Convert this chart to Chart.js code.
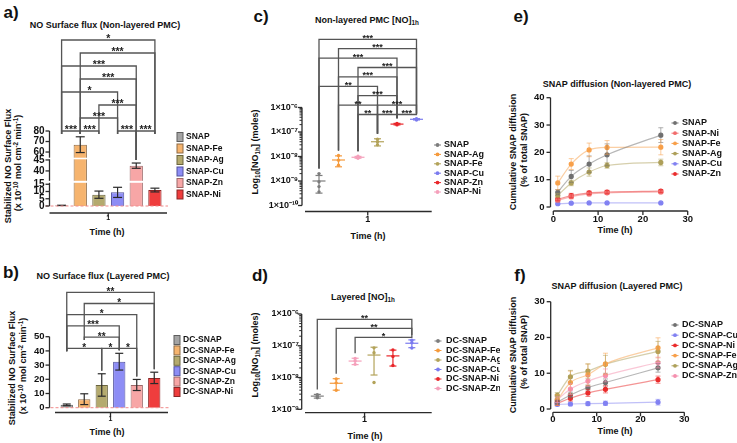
<!DOCTYPE html>
<html><head><meta charset="utf-8"><title>SNAP NO flux and diffusion</title>
<script src="https://cdn.jsdelivr.net/npm/chart.js@4.4.1/dist/chart.umd.min.js"></script>
<style>
html,body{margin:0;padding:0;background:#fff}
body{position:relative;width:737px;height:443px;overflow:hidden;font-family:"Liberation Sans",Arial,Helvetica,sans-serif;font-weight:bold;color:#111}
.t,.r{position:absolute;white-space:nowrap;line-height:1}
.t{transform:translate(-50%,-50%)}
.r{transform:translate(-50%,-50%) rotate(-90deg)}
.p{font-size:17px}
.h{font-size:9px}
.sp{font-size:0.7em;position:relative;top:-0.45em}
.sb{font-size:0.7em;position:relative;top:0.3em}
canvas{position:absolute}
</style></head>
<body>
<div class="t p" style="left:11px;top:12px">a)</div>
<div class="t p" style="left:11px;top:272px">b)</div>
<div class="t p" style="left:261px;top:16px">c)</div>
<div class="t p" style="left:260px;top:275px">d)</div>
<div class="t p" style="left:521px;top:16px">e)</div>
<div class="t p" style="left:520px;top:275px">f)</div>

<div class="t h" style="left:105px;top:25px">NO Surface flux (Non-layered PMC)</div>
<div class="t h" style="left:103px;top:276px">NO Surface flux (Layered PMC)</div>
<div class="t h" style="left:367px;top:20px">Non-layered PMC [NO]<span class="sb">1h</span></div>
<div class="t h" style="left:363px;top:297px">Layered [NO]<span class="sb">1h</span></div>
<div class="t h" style="left:617px;top:84px">SNAP diffusion (Non-layered PMC)</div>
<div class="t h" style="left:617px;top:286px">SNAP diffusion (Layered PMC)</div>

<div class="r h" style="left:8px;top:166px">Stabilized NO Surface Flux</div>
<div class="r h" style="left:18px;top:163px">(x 10<span class="sp">-10</span> mol cm<span class="sp">-2</span> min<span class="sp">-1</span>)</div>
<div class="r h" style="left:12px;top:368px">Stabilized NO Surface Flux</div>
<div class="r h" style="left:23px;top:366px">(x 10<span class="sp">-10</span> mol cm<span class="sp">-2</span> min<span class="sp">-1</span>)</div>
<div class="r h" style="left:255px;top:152px">Log<span class="sb">10</span>[NO<span class="sb">1h</span>] (moles)</div>
<div class="r h" style="left:255px;top:355px">Log<span class="sb">10</span>[NO<span class="sb">1h</span>] (moles)</div>
<div class="r h" style="left:513px;top:152px">Cumulative SNAP diffusion</div>
<div class="r h" style="left:524px;top:150px">(% of total SNAP)</div>
<div class="r h" style="left:513px;top:355px">Cumulative SNAP diffusion</div>
<div class="r h" style="left:524px;top:352px">(% of total SNAP)</div>

<div class="t h" style="left:107px;top:232px">Time (h)</div>
<div class="t h" style="left:107px;top:432px">Time (h)</div>
<div class="t h" style="left:368px;top:236px">Time (h)</div>
<div class="t h" style="left:365px;top:436px">Time (h)</div>
<div class="t h" style="left:615px;top:230px">Time (h)</div>
<div class="t h" style="left:615px;top:431px">Time (h)</div>

<script>
// ================= DATA =================
const xCategory = ['1'];

// a) NO surface flux, non-layered PMC
const aGroups  = ['SNAP','SNAP-Fe','SNAP-Ag','SNAP-Cu','SNAP-Zn','SNAP-Ni'];
const aMeans   = [0.4, 67.0, 7.8, 9.4, 42.4, 11.0];
const aErrors  = [0.1, 7.5, 2.5, 3.5, 1.2, 1.3];
const aYTicks  = [0,5,10,15,40,45,60,70,80];
const aBrackets = [[0,5,'*',0],[1,5,'***',1],[0,4,'***',2],[1,4,'***',3],[0,3,'*',4],[2,4,'***',5],[1,3,'***',6],[0,1,'***',7],[1,2,'***',7],[3,4,'***',7],[4,5,'***',7]];

// b) NO surface flux, layered PMC
const bGroups  = ['DC-SNAP','DC-SNAP-Fe','DC-SNAP-Ag','DC-SNAP-Cu','DC-SNAP-Zn','DC-SNAP-Ni'];
const bMeans   = [2.0, 6.0, 16.0, 32.4, 16.0, 21.0];
const bErrors  = [0.6, 3.8, 7.9, 5.9, 3.9, 4.0];
const bYTicks  = [0,10,20,30,40,50];
const bBrackets = [[0,5,'**',0],[1,5,'*',1],[0,4,'*',2],[0,3,'***',3],[1,3,'**',4],[0,2,'*',5],[2,3,'*',5],[3,4,'*',5]];

// c) Non-layered [NO]1h (plot order)
const cGroups  = ['SNAP','SNAP-Ag','SNAP-Ni','SNAP-Fe','SNAP-Zn','SNAP-Cu'];
const cPoints  = [[2.0e-9,9.3e-10,5.9e-10,3.6e-10],[1.1e-8,7.0e-9,4.4e-9],[1.02e-8,9.3e-9,8.5e-9],[5.1e-8,4.0e-8,3.0e-8],[2.25e-7,2.1e-7,1.95e-7],[3.5e-7,3.3e-7,3.1e-7]];
const cMeans   = [1.0e-9, 7.2e-9, 9.3e-9, 4.0e-8, 2.1e-7, 3.3e-7];
const cSDs     = [6.8e-10, 3.4e-9, 8.0e-10, 1.3e-8, 1.5e-8, 2.0e-8];
const cLegendOrder = [0,1,3,5,4,2];
const cYTicks  = [1e-10,1e-9,1e-8,1e-7,1e-6];
const cBrackets = [[0,5,'***',0],[1,5,'***',1],[0,4,'***',2],[2,5,'***',3],[1,4,'***',4],[0,3,'**',5],[2,4,'***',6],[1,3,'**',7],[3,5,'***',7],[2,3,'**',8],[3,4,'***',8],[4,5,'***',8]];

// d) Layered [NO]1h (plot order)
const dGroups  = ['DC-SNAP','DC-SNAP-Fe','DC-SNAP-Zn','DC-SNAP-Ag','DC-SNAP-Ni','DC-SNAP-Cu'];
const dPoints  = [[2.9e-9,2.6e-9,2.3e-9],[9.0e-9,6.8e-9,4.0e-9],[4.0e-8,3.3e-8,2.6e-8],[8.6e-8,6.0e-8,7.0e-9],[7.4e-8,4.6e-8,2.4e-8],[1.5e-7,1.25e-7,8.5e-8]];
const dMeans   = [2.6e-9, 6.6e-9, 3.3e-8, 5.1e-8, 4.8e-8, 1.2e-7];
const dSDs     = [3.5e-10, 2.6e-9, 7.5e-9, 3.9e-8, 2.5e-8, 3.3e-8];
const dLegendOrder = [0,1,3,5,4,2];
const dYTicks  = [1e-9,1e-8,1e-7,1e-6];
const dBrackets = [[0,5,'**',0],[1,5,'**',1],[2,5,'*',2]];

// e) SNAP diffusion, non-layered
const eTimes   = [1,4,8,12,24];
const eGroups  = ['SNAP','SNAP-Ni','SNAP-Fe','SNAP-Ag','SNAP-Cu','SNAP-Zn'];
const eValues  = [[5.4,11.2,15.7,19.1,26.3],[2.4,3.8,4.8,5.2,5.5],[8.8,15.7,20.9,21.8,21.9],[4.2,8.8,12.8,15.2,16.3],[1.2,1.4,1.5,1.5,1.5],[2.8,4.2,5.2,5.5,5.8]];
const eErrors  = [[1.0,2.2,3.0,4.0,2.7],[0.5,0.8,0.7,0.6,0.6],[2.5,2.0,2.5,2.5,2.8],[0.8,1.0,1.5,1.0,1.2],[0.3,0.2,0.2,0.2,0.2],[0.5,0.8,0.6,0.6,0.5]];
const eYTicks  = [0,10,20,30,40];
const eXTicks  = [0,10,20,30];

// f) SNAP diffusion, layered
const fTimes   = [1,4,8,12,24];
const fGroups  = ['DC-SNAP','DC-SNAP-Cu','DC-SNAP-Ni','DC-SNAP-Fe','DC-SNAP-Ag','DC-SNAP-Zn'];
const fValues  = [[1.9,3.9,6.0,7.4,11.5],[1.3,1.4,1.5,1.6,1.9],[1.6,3.0,4.5,5.5,8.2],[2.5,7.4,9.6,12.6,17.1],[3.8,9.0,10.6,12.5,16.1],[2.6,5.6,7.8,9.4,13.0]];
const fErrors  = [[0.6,0.8,0.7,1.0,1.2],[0.5,0.5,0.5,0.6,0.8],[0.6,0.8,1.0,1.0,1.0],[1.5,3.2,3.0,3.0,2.8],[0.8,1.8,2.0,2.5,2.8],[0.8,1.5,1.5,1.8,1.5]];
const fYTicks  = [0,10,20,30];
const fXTicks  = [0,10,20,30];

// ================= STYLE =================
const FONT = '"Liberation Sans", Arial, Helvetica, sans-serif';
const barFill = ['#a4a4a4','#f6b46e','#b4aa6e','#8d8df5','#f7a6a6','#ef3d3d'];
const barEdge = ['#5e5e5e','#8e6a44','#6a643f','#52529e','#9c6868','#8a2626'];
const cCol = ['#7d7d7d','#f59a3c','#f5a0bb','#b3a35a','#e9262a','#7b7bef'];
const dCol = ['#7d7d7d','#f59a3c','#f5a0bb','#b3a35a','#e9262a','#7b7bef'];
const eCol = ['#707070','#f26d6d','#f8a04a','#aea05a','#8181f2','#ea2b2b'];
const fCol = ['#707070','#8181f2','#ea2b2b','#f8a04a','#aea05a','#f58fae'];

Chart.defaults.font.family = FONT;
Chart.defaults.font.weight = 'bold';
Chart.defaults.color = '#111';
Chart.defaults.animation = false;
Chart.defaults.events = [];
Chart.defaults.plugins.legend.display = false;
Chart.defaults.plugins.tooltip.enabled = false;

function rgba(hex, a){ const n=parseInt(hex.slice(1),16); return `rgba(${n>>16},${(n>>8)&255},${n&255},${a})`; }
const SUP = {'-':'\u207B','0':'\u2070','1':'\u00B9','2':'\u00B2','3':'\u00B3','4':'\u2074','5':'\u2075','6':'\u2076','7':'\u2077','8':'\u2078','9':'\u2079'};
const sci = v => '1\u00D710' + String(Math.round(Math.log10(v))).split('').map(ch=>SUP[ch]).join('');

// ---- broken linear axis (panel a) ----
class BrokenScale extends Chart.LinearScale {
  _u(v){
    const s=this.options.segments;
    for (const g of s){ if (v<=g[1]) { if (v<g[0]) return g[2]; return g[2]+(v-g[0])*(g[3]-g[2])/(g[1]-g[0]); } }
    const g=s[s.length-1]; return g[2]+(v-g[0])*(g[3]-g[2])/(g[1]-g[0]);
  }
  uToPixel(u){ return this.bottom - u/this.options.span*(this.bottom-this.top); }
  getPixelForValue(v){ if (v===null||v===undefined||isNaN(v)) return NaN; return this.uToPixel(this._u(v)); }
  getValueForPixel(p){
    const u=(this.bottom-p)/(this.bottom-this.top)*this.options.span, s=this.options.segments;
    for (const g of s){ if (u<=g[3]) return g[0]+(u-g[2])*(g[1]-g[0])/(g[3]-g[2]); }
    const g=s[s.length-1]; return g[0]+(u-g[2])*(g[1]-g[0])/(g[3]-g[2]);
  }
}
BrokenScale.id = 'broken';
BrokenScale.defaults = {};
Chart.register(BrokenScale);

function makeCanvas(b){
  const c=document.createElement('canvas'); c.width=b.w; c.height=b.h;
  c.style.left=b.x+'px'; c.style.top=b.y+'px'; c.style.width=b.w+'px'; c.style.height=b.h+'px';
  document.body.appendChild(c); return c;
}
function lay(b, A, yW, xH){ return {padding:{left:A.L-b.x-yW, top:A.T-b.y, right:b.x+b.w-A.R, bottom:b.y+b.h-A.B-xH}}; }
const noGrid = {display:false, drawTicks:false};
const noBorder = {display:false};

// ---- decoration plugin: error bars, axes, significance brackets, legend ----
function decor(cfg){
  return { id:'decor', afterDraw(chart){
    const ctx=chart.ctx, ca=chart.chartArea, xs=chart.scales.x, ys=chart.scales.y;
    const ox=cfg.box.x, oy=cfg.box.y;
    const line=(x1,y1,x2,y2)=>{ctx.beginPath();ctx.moveTo(x1,y1);ctx.lineTo(x2,y2);ctx.stroke();};
    const gx = g => cfg.kind==='bar' ? chart.getDatasetMeta(g).data[0].x : xs.getPixelForValue(g);
    const topVal = g => cfg.kind==='bar' ? cfg.means[g]+cfg.errs[g] : Math.max(cfg.means[g]+cfg.errs[g], ...cfg.points[g]);
    ctx.save();
    // broken-axis white bands
    if (cfg.broken){
      const s=ys.options.segments; ctx.fillStyle='#fff';
      for (let k=0;k<s.length-1;k++){ const y1=ys.uToPixel(s[k][3]), y2=ys.uToPixel(s[k+1][2]); ctx.fillRect(ca.left+1,y2,ca.right-ca.left,y1-y2); }
    }
    // error bars
    if (cfg.kind==='bar'){
      ctx.strokeStyle='#2a2a2a'; ctx.lineWidth=1.2;
      cfg.means.forEach((m,g)=>{ const x=gx(g), yt=ys.getPixelForValue(m+cfg.errs[g]), yb=ys.getPixelForValue(Math.max(m-cfg.errs[g],0));
        line(x,yt,x,yb); line(x-cfg.cap,yt,x+cfg.cap,yt); line(x-cfg.cap,yb,x+cfg.cap,yb); });
    } else if (cfg.kind==='dot'){
      ctx.lineWidth=1.2;
      cfg.means.forEach((m,g)=>{ const x=gx(g), ym=ys.getPixelForValue(m), yt=ys.getPixelForValue(m+cfg.errs[g]), yb=ys.getPixelForValue(Math.max(m-cfg.errs[g],m*0.05));
        ctx.strokeStyle=cfg.colors[g]; line(x,yt,x,yb); line(x-6.5,ym,x+6.5,ym); line(x-3.5,yt,x+3.5,yt); line(x-3.5,yb,x+3.5,yb); });
    } else if (cfg.kind==='line'){
      ctx.lineWidth=1;
      cfg.values.forEach((vals,i)=>{ ctx.strokeStyle=rgba(cfg.colors[i],0.55);
        vals.forEach((v,k)=>{ const x=xs.getPixelForValue(cfg.times[k]), yt=ys.getPixelForValue(v+cfg.errs[i][k]), yb=ys.getPixelForValue(Math.max(v-cfg.errs[i][k],0));
          line(x,yt,x,yb); line(x-2.5,yt,x+2.5,yt); line(x-2.5,yb,x+2.5,yb); }); });
    }
    // dashed zero line
    if (cfg.zero){
      ctx.strokeStyle='#f08a8a'; ctx.lineWidth=1; ctx.setLineDash([3,2]);
      const y=ys.getPixelForValue(0); line(ca.left-(cfg.yGap||0)-4,y,ca.right+1,y); ctx.setLineDash([]);
    }
    // axes
    ctx.strokeStyle='#2b2b2b'; ctx.lineWidth=1.3;
    const ax=ca.left-(cfg.yGap||0);
    if (cfg.broken){
      const s=ys.options.segments; s.forEach(g=>line(ax,ys.uToPixel(g[2]),ax,ys.uToPixel(g[3])));
    } else {
      line(ax,ys.getPixelForValue(cfg.yTicks[0]),ax,ys.getPixelForValue(cfg.yTicks[cfg.yTicks.length-1]));
    }
    cfg.yTicks.forEach(v=>{ const p=ys.getPixelForValue(v); line(ax-4,p,ax,p); });
    if (cfg.log){
      ctx.lineWidth=1;
      for (let k=0;k<cfg.yTicks.length-1;k++) for (let m=2;m<10;m++){ const p=ys.getPixelForValue(cfg.yTicks[k]*m); line(ax-2.5,p,ax,p); }
      ctx.lineWidth=1.3;
    }
    const xb=ca.bottom;
    if (cfg.xTicks){ line(xs.getPixelForValue(cfg.xTicks[0]),xb,xs.getPixelForValue(cfg.xTicks[cfg.xTicks.length-1]),xb);
      cfg.xTicks.forEach(v=>{ const p=xs.getPixelForValue(v); line(p,xb,p,xb+4); }); }
    else { line(ca.left+(cfg.xInset||0),xb,ca.right,xb); const p=xs.getPixelForTick(0); line(p,xb,p,xb+4); }
    // significance brackets
    if (cfg.brackets){
      const rowY = r => cfg.bTop + r*cfg.bStep - oy;
      const low = {}; cfg.brackets.forEach(([g1,g2,,r])=>{ low[g1]=Math.max(low[g1]??-1,r); low[g2]=Math.max(low[g2]??-1,r); });
      const legB = g => cfg.legToData[g] ? ys.getPixelForValue(topVal(g))-cfg.legGap : rowY(low[g])+3;
      ctx.strokeStyle='#555'; ctx.lineWidth=1.3; ctx.fillStyle='#222';
      ctx.font=`bold ${cfg.starSize}px ${FONT}`; ctx.textAlign='center'; ctx.textBaseline='alphabetic';
      cfg.brackets.forEach(([g1,g2,st,r])=>{ const y=rowY(r), x1=gx(g1), x2=gx(g2);
        ctx.beginPath(); ctx.moveTo(x1,legB(g1)); ctx.lineTo(x1,y); ctx.lineTo(x2,y); ctx.lineTo(x2,legB(g2)); ctx.stroke();
        ctx.fillText(st,(x1+x2)/2,y+cfg.starDy); });
    }
    // legend
    const L=cfg.legend;
    ctx.font=`bold ${L.size}px ${FONT}`; ctx.textAlign='left'; ctx.textBaseline='middle';
    L.order.forEach((g,k)=>{ const y=L.y+k*L.step-oy, mx=L.mx-ox, col=cfg.colors[g];
      if (L.type==='box'){ ctx.fillStyle=col; ctx.fillRect(mx-3,y-4.5,6,9); ctx.strokeStyle=cfg.edges[g]; ctx.lineWidth=1; ctx.strokeRect(mx-3,y-4.5,6,9); }
      else { ctx.strokeStyle=col; ctx.lineWidth=1; line(mx-3.5,y,mx+3.5,y); ctx.fillStyle=col; ctx.beginPath(); ctx.arc(mx,y,1.9,0,Math.PI*2); ctx.fill(); }
      ctx.fillStyle='#111'; ctx.fillText(chart.data.datasets[g].label, L.tx-ox, y); });
    ctx.restore();
  }};
}

// ================= PANEL a =================
const boxA={x:0,y:0,w:245,h:240};
new Chart(makeCanvas(boxA), {
  type:'bar',
  data:{labels:xCategory, datasets:aGroups.map((g,i)=>({label:g,data:[aMeans[i]],backgroundColor:barFill[i],borderColor:barEdge[i],borderWidth:1,categoryPercentage:0.953,barPercentage:0.712}))},
  options:{responsive:false, layout:lay(boxA,{L:49.5,T:131,R:167,B:213},40,16),
    scales:{
      x:{type:'category',offset:true,grid:noGrid,border:noBorder,ticks:{font:{size:7},padding:1},afterFit:s=>{s.height=16;}},
      y:{type:'broken',min:0,max:80,segments:[[0,16,7,30.2],[35.5,45.3,32.2,53.7],[54.6,80,55.3,82]],span:82,
         grid:noGrid,border:noBorder,ticks:{autoSkip:false,font:{size:10},padding:5,callback:v=>String(v)},
         afterBuildTicks:s=>{s.ticks=aYTicks.map(v=>({value:v}));},afterFit:s=>{s.width=40;}}
    }},
  plugins:[decor({box:boxA,kind:'bar',means:aMeans,errs:aErrors,cap:4.5,broken:true,zero:true,yTicks:aYTicks,
    brackets:aBrackets,bTop:40,bStep:13,legToData:[0,0,0,0,1,0],legGap:3,starSize:10.5,starDy:2,
    colors:barFill,edges:barEdge,legend:{type:'box',order:[0,1,2,3,4,5],mx:180,tx:186,y:137,step:11.5,size:8.5}})]
});

// ================= PANEL b =================
const boxB={x:0,y:240,w:245,h:203};
new Chart(makeCanvas(boxB), {
  type:'bar',
  data:{labels:xCategory, datasets:bGroups.map((g,i)=>({label:g,data:[bMeans[i]],backgroundColor:barFill[i],borderColor:barEdge[i],borderWidth:1,categoryPercentage:0.913,barPercentage:0.703}))},
  options:{responsive:false, layout:lay(boxB,{L:53,T:336.7,R:168,B:412.5},40,16),
    scales:{
      x:{type:'category',offset:true,grid:noGrid,border:noBorder,ticks:{font:{size:7},padding:2},afterFit:s=>{s.height=16;}},
      y:{type:'linear',min:-3.38,max:50,grid:noGrid,border:noBorder,ticks:{autoSkip:false,font:{size:9.5},padding:8.5},
         afterBuildTicks:s=>{s.ticks=bYTicks.map(v=>({value:v}));},afterFit:s=>{s.width=40;}}
    }},
  plugins:[decor({box:boxB,kind:'bar',means:bMeans,errs:bErrors,cap:4,zero:true,yGap:3.5,yTicks:bYTicks,xInset:2,
    brackets:bBrackets,bTop:292.3,bStep:11.2,legToData:[0,0,1,1,1,1],legGap:3,starSize:10,starDy:2.5,
    colors:barFill,edges:barEdge,legend:{type:'box',order:[0,1,2,3,4,5],mx:177,tx:183,y:340,step:10.4,size:8.5}})]
});

// ================= PANEL c =================
const boxC={x:245,y:0,w:255,h:240};
new Chart(makeCanvas(boxC), {
  type:'scatter',
  data:{datasets:cGroups.map((g,i)=>({label:g,data:cPoints[i].map(v=>({x:i,y:v})),backgroundColor:cCol[i],borderColor:cCol[i],pointRadius:1.7,borderWidth:0}))},
  options:{responsive:false, layout:lay(boxC,{L:305,T:107.5,R:431.7,B:211.5},55,16),
    scales:{
      x:{type:'linear',min:-0.718,max:5.78,grid:noGrid,border:noBorder,ticks:{font:{size:9},padding:3,callback:()=> '1'},
         afterBuildTicks:s=>{s.ticks=[{value:(cGroups.length-1)/2}];},afterFit:s=>{s.height=16;}},
      y:{type:'logarithmic',min:Math.pow(10,-10.245),max:1e-6,grid:noGrid,border:noBorder,ticks:{autoSkip:false,font:{size:9},padding:7,callback:v=>sci(v)},
         afterBuildTicks:s=>{s.ticks=cYTicks.map(v=>({value:v}));},afterFit:s=>{s.width=55;}}
    }},
  plugins:[decor({box:boxC,kind:'dot',means:cMeans,errs:cSDs,points:cPoints,log:true,yGap:3,yTicks:cYTicks,
    brackets:cBrackets,bTop:39.3,bStep:9.4,legToData:[1,1,1,1,1,1],legGap:5,starSize:9,starDy:1.5,
    colors:cCol,legend:{type:'dot',order:cLegendOrder,mx:437.5,tx:444,y:145,step:9.4,size:9}})]
});

// ================= PANEL d =================
const boxD={x:245,y:240,w:255,h:203};
new Chart(makeCanvas(boxD), {
  type:'scatter',
  data:{datasets:dGroups.map((g,i)=>({label:g,data:dPoints[i].map(v=>({x:i,y:v})),backgroundColor:dCol[i],borderColor:dCol[i],pointRadius:1.7,borderWidth:0}))},
  options:{responsive:false, layout:lay(boxD,{L:305,T:314,R:431.7,B:412.7},55,16),
    scales:{
      x:{type:'linear',min:-0.65,max:6.05,grid:noGrid,border:noBorder,ticks:{font:{size:9},padding:1,callback:()=> '1'},
         afterBuildTicks:s=>{s.ticks=[{value:(dGroups.length-1)/2}];},afterFit:s=>{s.height=16;}},
      y:{type:'logarithmic',min:Math.pow(10,-9.107),max:1e-6,grid:noGrid,border:noBorder,ticks:{autoSkip:false,font:{size:9},padding:6,callback:v=>sci(v)},
         afterBuildTicks:s=>{s.ticks=dYTicks.map(v=>({value:v}));},afterFit:s=>{s.width=55;}}
    }},
  plugins:[decor({box:boxD,kind:'dot',means:dMeans,errs:dSDs,points:dPoints,log:true,yGap:3.3,yTicks:dYTicks,
    brackets:dBrackets,bTop:319.3,bStep:9,legToData:[1,1,1,1,1,1],legGap:5,starSize:9,starDy:1.5,
    colors:dCol,legend:{type:'dot',order:dLegendOrder,mx:438,tx:446,y:341,step:9.5,size:9}})]
});

// ================= PANEL e =================
const boxE={x:500,y:0,w:237,h:240};
new Chart(makeCanvas(boxE), {
  type:'line',
  data:{datasets:eGroups.map((g,i)=>({label:g,data:eTimes.map((t,k)=>({x:t,y:eValues[i][k]})),borderColor:rgba(eCol[i],0.5),backgroundColor:eCol[i],
    pointBackgroundColor:eCol[i],pointBorderColor:eCol[i],pointRadius:2,borderWidth:1.2,cubicInterpolationMode:'monotone',fill:false}))},
  options:{responsive:false, layout:lay(boxE,{L:550.5,T:97.7,R:687.7,B:211},40,16),
    scales:{
      x:{type:'linear',min:-0.625,max:30,grid:noGrid,border:noBorder,ticks:{autoSkip:false,font:{size:9.5},padding:3},
         afterBuildTicks:s=>{s.ticks=eXTicks.map(v=>({value:v}));},afterFit:s=>{s.height=16;}},
      y:{type:'linear',min:-1.46,max:40,grid:noGrid,border:noBorder,ticks:{autoSkip:false,font:{size:9.5},padding:6},
         afterBuildTicks:s=>{s.ticks=eYTicks.map(v=>({value:v}));},afterFit:s=>{s.width=40;}}
    }},
  plugins:[decor({box:boxE,kind:'line',values:eValues,errs:eErrors,times:eTimes,yTicks:eYTicks,xTicks:eXTicks,
    colors:eCol,legend:{type:'dot',order:[0,1,2,3,4,5],mx:675,tx:682,y:123,step:10.2,size:9}})]
});

// ================= PANEL f =================
const boxF={x:500,y:240,w:237,h:203};
new Chart(makeCanvas(boxF), {
  type:'line',
  data:{datasets:fGroups.map((g,i)=>({label:g,data:fTimes.map((t,k)=>({x:t,y:fValues[i][k]})),borderColor:rgba(fCol[i],0.5),backgroundColor:fCol[i],
    pointBackgroundColor:fCol[i],pointBorderColor:fCol[i],pointRadius:2,borderWidth:1.2,cubicInterpolationMode:'monotone',fill:false}))},
  options:{responsive:false, layout:lay(boxF,{L:550.7,T:301.7,R:684.3,B:412.3},40,16),
    scales:{
      x:{type:'linear',min:-0.5,max:30,grid:noGrid,border:noBorder,ticks:{autoSkip:false,font:{size:9.5},padding:1},
         afterBuildTicks:s=>{s.ticks=fXTicks.map(v=>({value:v}));},afterFit:s=>{s.height=16;}},
      y:{type:'linear',min:-0.92,max:30,grid:noGrid,border:noBorder,ticks:{autoSkip:false,font:{size:9.5},padding:6},
         afterBuildTicks:s=>{s.ticks=fYTicks.map(v=>({value:v}));},afterFit:s=>{s.width=40;}}
    }},
  plugins:[decor({box:boxF,kind:'line',values:fValues,errs:fErrors,times:fTimes,yTicks:fYTicks,xTicks:fXTicks,
    colors:fCol,legend:{type:'dot',order:[0,1,2,3,4,5],mx:675,tx:682,y:325,step:10.2,size:9}})]
});
</script>
</body></html>
